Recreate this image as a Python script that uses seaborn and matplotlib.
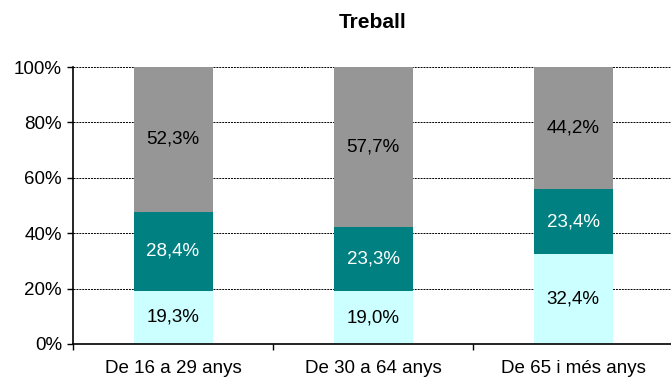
import matplotlib
matplotlib.use("Agg")
import matplotlib.pyplot as plt
import seaborn as sns
import pandas as pd
import numpy as np

# Data: share of each segment per age group (percent)
categories = ["De 16 a 29 anys", "De 30 a 64 anys", "De 65 i més anys"]
seg_bottom = [19.3, 19.0, 32.4]
seg_middle = [28.4, 23.3, 23.4]
seg_top = [52.3, 57.7, 44.2]

colors = ["#CCFFFF", "#008080", "#969696"]
label_colors = ["black", "white", "black"]

sns.set_theme(style="white")
plt.rcParams["font.family"] = ["Liberation Sans", "DejaVu Sans"]
plt.rcParams["text.color"] = "black"

FS = 13.5

fig = plt.figure(figsize=(6.71, 3.83), dpi=100)
ax = fig.add_axes([73 / 671, 39 / 383, 600 / 671, 277 / 383])

segments = [seg_bottom, seg_middle, seg_top]
cum = np.cumsum(np.array(segments), axis=0)

# Draw cumulative totals from the tallest down so each segment shows
for i in reversed(range(3)):
    df = pd.DataFrame({"cat": categories, "val": cum[i]})
    sns.barplot(data=df, x="cat", y="val", color=colors[i], saturation=1,
                width=0.395, ax=ax, zorder=2, linewidth=0)

# Segment labels
for i in range(3):
    base = cum[i] - np.array(segments[i])
    for j, v in enumerate(segments[i]):
        ax.text(j, base[j] + v / 2, f"{v:.1f}%".replace(".", ","),
                ha="center", va="center", fontsize=FS, color=label_colors[i],
                zorder=3)

ax.set_xlim(-0.5, 2.5)
ax.set_ylim(0, 100)
ax.set_yticks([0, 20, 40, 60, 80, 100])
ax.set_yticklabels([f"{t}%" for t in [0, 20, 40, 60, 80, 100]])
ax.set_xlabel("")
ax.set_ylabel("")

ax.yaxis.grid(True, linestyle=(0, (2, 1)), color="black", linewidth=0.7, zorder=0)
ax.xaxis.grid(False)
ax.set_axisbelow(True)

for side in ["top", "right"]:
    ax.spines[side].set_visible(False)
for side in ["left", "bottom"]:
    ax.spines[side].set_color("black")
    ax.spines[side].set_linewidth(1.2)

ax.tick_params(axis="y", which="major", left=True, length=4, width=1,
               color="black", pad=4, labelsize=FS, labelcolor="black")
ax.tick_params(axis="x", which="major", bottom=False, length=0, pad=11.5,
               labelsize=FS, labelcolor="black")
ax.set_xticks([-0.5, 0.5, 1.5, 2.5], minor=True)
ax.tick_params(axis="x", which="minor", bottom=True, length=4, width=1,
               color="black")

ax.set_title("Treball", fontsize=15, fontweight="bold", pad=28, color="black")

fig.savefig("out.png", dpi=100)
